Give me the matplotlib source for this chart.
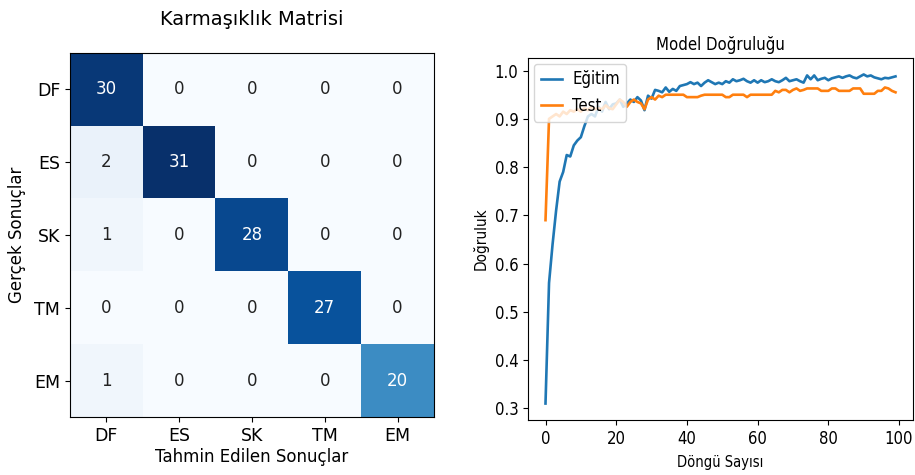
import numpy as np
from matplotlib import pyplot as plt

plt.rcParams.update({'font.size': 12, 'font.family': ['DejaVu Sans']})

# Confusion matrix data
classes = ['DF', 'ES', 'SK', 'TM', 'EM']
cm = np.array([
    [30, 0, 0, 0, 0],
    [2, 31, 0, 0, 0],
    [1, 0, 28, 0, 0],
    [0, 0, 0, 27, 0],
    [1, 0, 0, 0, 20],
])

# Accuracy per epoch
train_acc = [
    0.310, 0.560, 0.640, 0.710, 0.770, 0.790, 0.825, 0.822, 0.845, 0.855,
    0.862, 0.885, 0.905, 0.910, 0.905, 0.925, 0.915, 0.935, 0.920, 0.930,
    0.932, 0.940, 0.925, 0.932, 0.940, 0.935, 0.945, 0.938, 0.918, 0.948,
    0.942, 0.960, 0.958, 0.955, 0.965, 0.956, 0.962, 0.958, 0.968, 0.970,
    0.972, 0.976, 0.972, 0.975, 0.968, 0.975, 0.980, 0.976, 0.972, 0.975,
    0.972, 0.978, 0.975, 0.982, 0.978, 0.980, 0.983, 0.978, 0.975, 0.980,
    0.975, 0.980, 0.976, 0.978, 0.982, 0.978, 0.976, 0.980, 0.985, 0.978,
    0.980, 0.982, 0.978, 0.975, 0.990, 0.982, 0.990, 0.980, 0.983, 0.985,
    0.980, 0.984, 0.986, 0.988, 0.985, 0.988, 0.990, 0.986, 0.984, 0.988,
    0.992, 0.988, 0.990, 0.986, 0.984, 0.982, 0.985, 0.984, 0.986, 0.988,
]
test_acc = [
    0.690, 0.900, 0.905, 0.910, 0.905, 0.915, 0.910, 0.918, 0.915, 0.920,
    0.915, 0.922, 0.918, 0.925, 0.920, 0.922, 0.920, 0.928, 0.922, 0.920,
    0.930, 0.940, 0.935, 0.925, 0.935, 0.940, 0.935, 0.932, 0.920, 0.940,
    0.945, 0.940, 0.948, 0.945, 0.950, 0.950, 0.950, 0.950, 0.950, 0.950,
    0.945, 0.945, 0.945, 0.945, 0.948, 0.950, 0.950, 0.950, 0.950, 0.950,
    0.950, 0.945, 0.945, 0.950, 0.950, 0.950, 0.950, 0.945, 0.950, 0.950,
    0.950, 0.950, 0.950, 0.950, 0.950, 0.958, 0.955, 0.960, 0.960, 0.955,
    0.960, 0.963, 0.958, 0.960, 0.963, 0.963, 0.963, 0.963, 0.958, 0.958,
    0.958, 0.963, 0.963, 0.958, 0.958, 0.958, 0.958, 0.963, 0.963, 0.963,
    0.952, 0.952, 0.952, 0.952, 0.958, 0.958, 0.965, 0.963, 0.958, 0.955,
]
epochs = list(range(len(train_acc)))
x_ticks = [0, 20, 40, 60, 80, 100]
y_ticks = [0.3, 0.4, 0.5, 0.6, 0.7, 0.8, 0.9, 1.0]

fig = plt.figure(figsize=(9.15, 4.75), dpi=100)

# Left: confusion matrix
ax1 = fig.add_axes([70/915, 1-417/475, 364/915, 364/475])
ax1.imshow(cm, cmap='Blues', interpolation='nearest', aspect='auto')
thresh = cm.max() / 2
for i in range(cm.shape[0]):
    for j in range(cm.shape[1]):
        ax1.text(j, i, str(cm[i, j]), ha='center', va='center', fontsize=12,
                 color='white' if cm[i, j] > thresh else '#222222')
ax1.set_xticks(range(len(classes)))
ax1.set_yticks(range(len(classes)))
ax1.set_xticklabels(classes, fontsize=12.5)
ax1.set_yticklabels(classes, fontsize=12.5)
ax1.set_title('Karmaşıklık Matrisi', fontsize=14, pad=20)
ax1.set_xlabel('Tahmin Edilen Sonuçlar', fontsize=12, labelpad=2)
ax1.set_ylabel('Gerçek Sonuçlar', fontsize=12, labelpad=6)

# Right: accuracy curves
cond = 'condensed'
ax2 = fig.add_axes([528/915, 1-420/475, 385/915, 362/475])
ax2.plot(epochs, train_acc, color='#1f77b4', linewidth=1.9, label='Eğitim')
ax2.plot(epochs, test_acc, color='#ff7f0e', linewidth=1.9, label='Test')
ax2.set_xticks(x_ticks)
ax2.set_xticklabels([str(t) for t in x_ticks], fontsize=12, fontstretch=cond)
ax2.set_yticks(y_ticks)
ax2.set_yticklabels([f'{t:.1f}' for t in y_ticks], fontsize=12, fontstretch=cond)
ax2.set_title('Model Doğruluğu', fontsize=12, fontstretch=cond)
ax2.set_xlabel('Döngü Sayısı', fontsize=10.5, fontstretch=cond, labelpad=5)
ax2.set_ylabel('Doğruluk', fontsize=11, fontstretch=cond)
ax2.legend(loc='upper left', prop={'size': 12, 'stretch': cond},
           handlelength=1.3, handletextpad=0.6, borderaxespad=0.35)

fig.savefig('out.png', dpi=100)
